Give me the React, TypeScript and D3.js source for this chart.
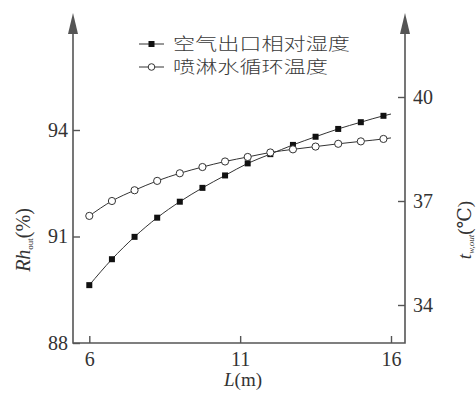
import React, { useEffect, useRef } from 'react';
import * as d3 from 'd3';

const width = 476;
const height = 404;

// L (m) of each point; the last one only ends the curve, it has no marker
const lengths = [6, 6.75, 7.5, 8.25, 9, 9.75, 10.5, 11.25, 12, 12.75, 13.5, 14.25, 15, 15.75, 16];
const rhOut = [89.63, 90.36, 90.99, 91.53, 91.98, 92.37, 92.72, 93.06, 93.32, 93.58, 93.81, 94.03, 94.22, 94.4, 94.45];
const twOut = [36.57, 37.0, 37.31, 37.58, 37.8, 37.98, 38.14, 38.27, 38.4, 38.49, 38.57, 38.65, 38.72, 38.79, 38.82];
const markerCount = 14;

const xTicks = [6, 11, 16];
const leftTicks = [88, 91, 94];
const rightTicks = [34, 37, 40];
const legendLabels = ['空气出口相对湿度', '喷淋水循环温度'];

const axisLeftX = 73;
const axisRightX = 405;
const axisBottomY = 343;
const axisTopY = 13;
const axisColor = '#555';
const lineColor = '#333';
const serif = '"Liberation Serif", "DejaVu Serif", serif';
const cjk = '"Noto Sans CJK SC", sans-serif';

function App() {
  const ref = useRef<SVGSVGElement | null>(null);

  useEffect(() => {
    const svg = d3.select(ref.current);
    svg.selectAll('*').remove();

    const x = d3.scaleLinear().domain([6, 16]).range([89.3, 391]);
    const yLeft = d3.scaleLinear().domain([88, 94]).range([axisBottomY, 130]);
    const yRight = d3.scaleLinear().domain([34, 40]).range([305, 97]);

    // axis lines with arrows
    const axes = svg.append('g').attr('stroke', axisColor).attr('stroke-width', 1.6).attr('fill', 'none');
    axes.append('path')
      .attr('d', `M${axisLeftX},${axisTopY + 8}V${axisBottomY}H${axisRightX}V${axisTopY + 8}`);
    [axisLeftX, axisRightX].forEach((ax) => {
      svg.append('path')
        .attr('d', `M${ax},${axisTopY}L${ax - 5},${axisTopY + 21}L${ax + 5},${axisTopY + 21}Z`)
        .attr('fill', axisColor);
    });

    const styleAxis = (g: d3.Selection<SVGGElement, unknown, null, undefined>) => {
      g.select('.domain').remove();
      g.selectAll('line').attr('stroke', axisColor).attr('stroke-width', 1.4);
      g.selectAll('text')
        .attr('fill', '#333')
        .style('font-family', serif)
        .style('font-size', '20px');
    };

    svg.append('g')
      .attr('transform', `translate(0,${axisBottomY})`)
      .call(d3.axisBottom(x).tickValues(xTicks).tickSize(-7).tickPadding(9).tickFormat(d3.format('d')))
      .call(styleAxis);

    svg.append('g')
      .attr('transform', `translate(${axisLeftX},0)`)
      .call(d3.axisLeft(yLeft).tickValues(leftTicks).tickSize(-7).tickPadding(5).tickFormat(d3.format('d')))
      .call(styleAxis);

    svg.append('g')
      .attr('transform', `translate(${axisRightX},0)`)
      .call(d3.axisRight(yRight).tickValues(rightTicks).tickSize(-7).tickPadding(8).tickFormat(d3.format('d')))
      .call(styleAxis);

    // curves
    const pts = lengths.map((l, i) => ({ l, rh: rhOut[i], tw: twOut[i] }));
    const lineRh = d3.line<typeof pts[0]>().x((d) => x(d.l)).y((d) => yLeft(d.rh)).curve(d3.curveMonotoneX);
    const lineTw = d3.line<typeof pts[0]>().x((d) => x(d.l)).y((d) => yRight(d.tw)).curve(d3.curveMonotoneX);

    svg.append('path').datum(pts).attr('d', lineRh)
      .attr('fill', 'none').attr('stroke', lineColor).attr('stroke-width', 1);
    svg.append('path').datum(pts).attr('d', lineTw)
      .attr('fill', 'none').attr('stroke', lineColor).attr('stroke-width', 1);

    const marked = pts.slice(0, markerCount);
    svg.append('g').selectAll('rect').data(marked).enter().append('rect')
      .attr('x', (d) => x(d.l) - 3)
      .attr('y', (d) => yLeft(d.rh) - 3)
      .attr('width', 6)
      .attr('height', 6)
      .attr('fill', '#111');
    svg.append('g').selectAll('circle').data(marked).enter().append('circle')
      .attr('cx', (d) => x(d.l))
      .attr('cy', (d) => yRight(d.tw))
      .attr('r', 3.6)
      .attr('fill', '#fff')
      .attr('stroke', lineColor)
      .attr('stroke-width', 1);

    // legend
    const legend = svg.append('g');
    legendLabels.forEach((label, i) => {
      const ly = 44 + i * 23;
      legend.append('line')
        .attr('x1', 139).attr('x2', 164).attr('y1', ly).attr('y2', ly)
        .attr('stroke', lineColor).attr('stroke-width', 1);
      if (i === 0) {
        legend.append('rect').attr('x', 148.5).attr('y', ly - 3).attr('width', 6).attr('height', 6).attr('fill', '#111');
      } else {
        legend.append('circle').attr('cx', 151.5).attr('cy', ly).attr('r', 3.3)
          .attr('fill', '#fff').attr('stroke', lineColor).attr('stroke-width', 1);
      }
      legend.append('text')
        .attr('x', 173).attr('y', ly + 6)
        .attr('textLength', i === 0 ? 177 : 155)
        .attr('lengthAdjust', 'spacingAndGlyphs')
        .attr('fill', '#3a3a3a')
        .style('font-family', cjk)
        .style('font-weight', 300)
        .style('font-size', '17px')
        .text(label);
    });

    // axis titles
    const xTitle = svg.append('text')
      .attr('x', 243).attr('y', 386)
      .attr('text-anchor', 'middle')
      .attr('fill', '#333')
      .style('font-family', serif)
      .style('font-size', '19px');
    xTitle.append('tspan').style('font-style', 'italic').text('L');
    xTitle.append('tspan').text('(m)');

    const leftTitle = svg.append('text')
      .attr('transform', 'translate(30,240) rotate(-90)')
      .attr('text-anchor', 'middle')
      .attr('fill', '#333')
      .style('font-family', serif)
      .style('font-size', '20px');
    leftTitle.append('tspan').style('font-style', 'italic').text('Rh');
    leftTitle.append('tspan').attr('dy', 3).style('font-size', '9px').text('out');
    leftTitle.append('tspan').attr('dy', -3).text('(%)');

    const rightTitle = svg.append('text')
      .attr('transform', 'translate(471,230) rotate(-90)')
      .attr('text-anchor', 'middle')
      .attr('fill', '#333')
      .style('font-family', serif)
      .style('font-size', '19px');
    rightTitle.append('tspan').style('font-style', 'italic').text('t');
    rightTitle.append('tspan').attr('dy', 3).style('font-size', '9px').style('font-style', 'italic').text('w,out');
    rightTitle.append('tspan').attr('dy', -3).text('(℃)');
  }, []);

  return (
    <svg
      ref={ref}
      width={width}
      height={height}
      style={{ position: 'absolute', left: 0, top: 0, background: '#fff' }}
    />
  );
}

export default App;
